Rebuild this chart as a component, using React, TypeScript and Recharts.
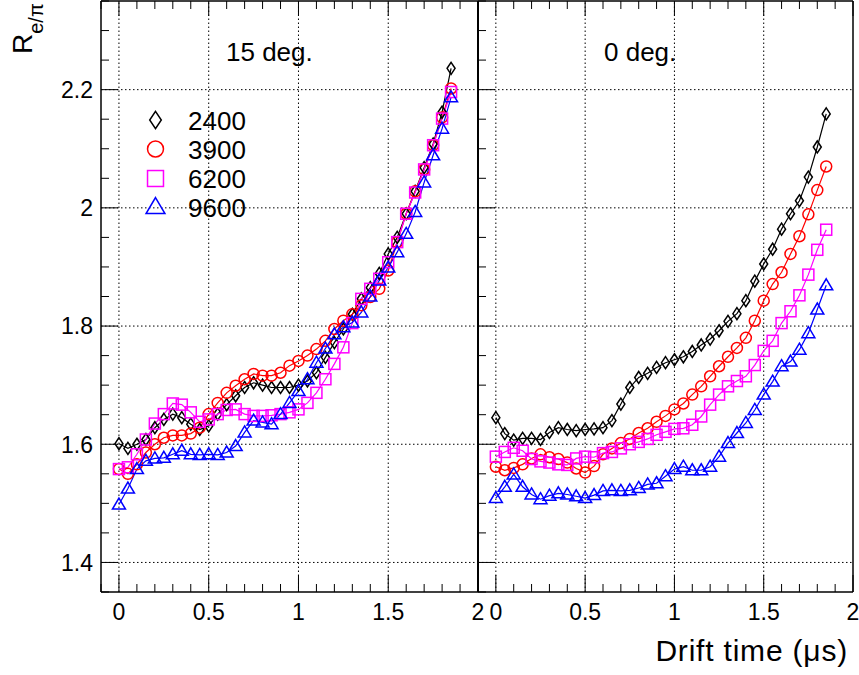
import React from "react";
import { LineChart, Line, XAxis, YAxis, ReferenceLine } from "recharts";

// drift time in microseconds, same sampling for every series
const driftTime = [
  0, 0.05, 0.1, 0.15, 0.2, 0.25, 0.3, 0.35, 0.4, 0.45, 0.5, 0.55, 0.6, 0.65,
  0.7, 0.75, 0.8, 0.85, 0.9, 0.95, 1.0, 1.05, 1.1, 1.15, 1.2, 1.25, 1.3, 1.35,
  1.4, 1.45, 1.5, 1.55, 1.6, 1.65, 1.7, 1.75, 1.8, 1.85,
];

// 15 deg. panel
const deg15_2400 = [
  1.601, 1.593, 1.6, 1.608, 1.628, 1.642, 1.651, 1.645, 1.634, 1.625, 1.631,
  1.651, 1.667, 1.682, 1.696, 1.704, 1.7, 1.696, 1.696, 1.696, 1.7, 1.707,
  1.721, 1.747, 1.772, 1.795, 1.82, 1.846, 1.865, 1.889, 1.922, 1.95, 1.99,
  2.028, 2.068, 2.108, 2.162, 2.236,
];
const deg15_3900 = [
  1.558, 1.55, 1.566, 1.586, 1.6, 1.611, 1.615, 1.615, 1.618, 1.628, 1.651,
  1.67, 1.687, 1.699, 1.71, 1.719, 1.716, 1.716, 1.721, 1.733, 1.741, 1.75,
  1.761, 1.775, 1.795, 1.809, 1.82, 1.835, 1.849, 1.863, 1.894, 1.942, 1.99,
  2.028, 2.065, 2.106, 2.153, 2.202,
];
const deg15_6200 = [
  1.558, 1.561, 1.583, 1.608, 1.635, 1.651, 1.669, 1.667, 1.654, 1.638, 1.642,
  1.651, 1.658, 1.659, 1.651, 1.648, 1.648, 1.649, 1.651, 1.654, 1.659, 1.67,
  1.687, 1.71, 1.736, 1.764, 1.805, 1.846, 1.863, 1.88, 1.908, 1.942, 1.99,
  2.026, 2.065, 2.106, 2.151, 2.196,
];
const deg15_9600 = [
  1.498, 1.525, 1.558, 1.572, 1.576, 1.577, 1.583, 1.589, 1.583, 1.582, 1.583,
  1.582, 1.586, 1.597, 1.62, 1.64, 1.637, 1.634, 1.651, 1.67, 1.69, 1.71,
  1.738, 1.762, 1.786, 1.798, 1.806, 1.823, 1.85, 1.877, 1.899, 1.925, 1.956,
  1.993, 2.043, 2.089, 2.134, 2.187,
];

// 0 deg. panel
const deg0_2400 = [
  1.645, 1.618, 1.607, 1.61, 1.61, 1.608, 1.62, 1.628, 1.625, 1.623, 1.625,
  1.626, 1.628, 1.64, 1.668, 1.696, 1.713, 1.72, 1.73, 1.738, 1.743, 1.748,
  1.757, 1.768, 1.778, 1.792, 1.808, 1.821, 1.843, 1.876, 1.905, 1.93, 1.964,
  1.99, 2.012, 2.052, 2.103, 2.159,
];
const deg0_3900 = [
  1.562, 1.556, 1.56, 1.566, 1.576, 1.583, 1.578, 1.575, 1.569, 1.559, 1.552,
  1.563, 1.583, 1.593, 1.602, 1.609, 1.619, 1.627, 1.638, 1.648, 1.659, 1.669,
  1.684, 1.698, 1.715, 1.732, 1.748, 1.763, 1.78, 1.809, 1.843, 1.871, 1.891,
  1.922, 1.952, 1.989, 2.03, 2.07,
];
const deg0_6200 = [
  1.579, 1.587, 1.594, 1.589, 1.575, 1.571, 1.569, 1.566, 1.565, 1.576, 1.579,
  1.578, 1.585, 1.587, 1.593, 1.6, 1.604, 1.609, 1.616, 1.621, 1.626, 1.627,
  1.633, 1.647, 1.667, 1.684, 1.698, 1.707, 1.715, 1.734, 1.758, 1.775, 1.805,
  1.825, 1.852, 1.887, 1.929, 1.963,
];
const deg0_9600 = [
  1.509, 1.528, 1.549, 1.528, 1.515, 1.507, 1.513, 1.517, 1.515, 1.512, 1.509,
  1.514, 1.521, 1.522, 1.521, 1.522, 1.526, 1.532, 1.534, 1.546, 1.558, 1.562,
  1.556, 1.556, 1.562, 1.579, 1.602, 1.619, 1.636, 1.658, 1.684, 1.706, 1.732,
  1.74, 1.76, 1.788, 1.828, 1.869,
];

const xTicks = [
  -0.1, 0, 0.1, 0.2, 0.3, 0.4, 0.5, 0.6, 0.7, 0.8, 0.9, 1, 1.1, 1.2, 1.3, 1.4,
  1.5, 1.6, 1.7, 1.8, 1.9, 2,
];
const xMajor = [0, 0.5, 1, 1.5, 2];
const yTicks = [
  1.35, 1.4, 1.45, 1.5, 1.55, 1.6, 1.65, 1.7, 1.75, 1.8, 1.85, 1.9, 1.95, 2,
  2.05, 2.1, 2.15, 2.2, 2.25, 2.3, 2.35,
];
const yMajor = [1.4, 1.6, 1.8, 2, 2.2];

const SERIES = [
  { key: "s2400", name: "2400", color: "#000000", shape: "diamond" },
  { key: "s3900", name: "3900", color: "#ff0000", shape: "circle" },
  { key: "s6200", name: "6200", color: "#ff00ff", shape: "square" },
  { key: "s9600", name: "9600", color: "#0000ff", shape: "triangle" },
];

const leftData = driftTime.map((t, i) => ({
  t,
  s2400: deg15_2400[i],
  s3900: deg15_3900[i],
  s6200: deg15_6200[i],
  s9600: deg15_9600[i],
}));
const rightData = driftTime.map((t, i) => ({
  t,
  s2400: deg0_2400[i],
  s3900: deg0_3900[i],
  s6200: deg0_6200[i],
  s9600: deg0_9600[i],
}));

const FONT = "'Liberation Sans', Arial, Helvetica, sans-serif";

function Marker({ shape, cx, cy, color, s = 1 }) {
  const common = { fill: "none", stroke: color, strokeWidth: 1.5 };
  if (shape === "diamond")
    return (
      <path
        d={`M${cx},${cy - 6 * s}L${cx + 4 * s},${cy}L${cx},${cy + 6 * s}L${cx - 4 * s},${cy}Z`}
        {...common}
      />
    );
  if (shape === "circle") return <circle cx={cx} cy={cy} r={5.5 * s} {...common} />;
  if (shape === "square")
    return <rect x={cx - 5.5 * s} y={cy - 5.5 * s} width={11 * s} height={11 * s} {...common} />;
  return (
    <path
      d={`M${cx},${cy - 6.5 * s}L${cx + 6.5 * s},${cy + 4.5 * s}L${cx - 6.5 * s},${cy + 4.5 * s}Z`}
      {...common}
    />
  );
}

const near = (v, list) => list.some((m) => Math.abs(m - v) < 1e-6);
const fmt = (v) => String(Math.round(v * 10) / 10);

function BottomTick(props) {
  const { x, y, payload } = props;
  const major = near(payload.value, xMajor);
  return (
    <g>
      <line x1={x} x2={x} y1={y} y2={y - (major ? 17 : 8)} stroke="#000" />
      {major && (
        <text x={x} y={y + 28} textAnchor="middle" fontSize={23} fontFamily={FONT} fill="#000">
          {fmt(payload.value)}
        </text>
      )}
    </g>
  );
}

function TopTick(props) {
  const { x, y, payload } = props;
  const major = near(payload.value, xMajor);
  return <line x1={x} x2={x} y1={y} y2={y + (major ? 15 : 8)} stroke="#000" />;
}

function makeLeftTick(withLabels) {
  return function LeftTick(props) {
    const { x, y, payload } = props;
    const major = near(payload.value, yMajor);
    return (
      <g>
        <line x1={x} x2={x + (major ? 17 : 8)} y1={y} y2={y} stroke="#000" />
        {withLabels && major && (
          <text
            x={x - 8}
            y={y}
            dy="0.36em"
            textAnchor="end"
            fontSize={23}
            fontFamily={FONT}
            fill="#000"
          >
            {fmt(payload.value)}
          </text>
        )}
      </g>
    );
  };
}

function RightTick(props) {
  const { x, y, payload } = props;
  const major = near(payload.value, yMajor);
  return <line x1={x} x2={x - (major ? 17 : 8)} y1={y} y2={y} stroke="#000" />;
}

const leftTickLabelled = makeLeftTick(true);
const leftTickPlain = makeLeftTick(false);

function Panel({ data, width, margin, leftWidth, yLabels, leftStroke }) {
  return (
    <LineChart width={width} height={675} data={data} margin={margin}>
      <XAxis
        xAxisId="b"
        dataKey="t"
        type="number"
        orientation="bottom"
        domain={[-0.1, 2]}
        ticks={xTicks}
        interval={0}
        height={30}
        tickSize={0}
        tickMargin={0}
        tickLine={false}
        tick={BottomTick}
        axisLine={{ stroke: "#000", strokeWidth: 1.5 }}
      />
      <XAxis
        xAxisId="t"
        dataKey="t"
        type="number"
        orientation="top"
        domain={[-0.1, 2]}
        ticks={xTicks}
        interval={0}
        height={1}
        tickSize={0}
        tickMargin={0}
        tickLine={false}
        tick={TopTick}
        axisLine={{ stroke: "#000", strokeWidth: 1.5 }}
      />
      <YAxis
        yAxisId="l"
        type="number"
        orientation="left"
        domain={[1.35, 2.35]}
        ticks={yTicks}
        interval={0}
        width={leftWidth}
        tickSize={0}
        tickMargin={0}
        tickLine={false}
        tick={yLabels ? leftTickLabelled : leftTickPlain}
        axisLine={{ stroke: "#000", strokeWidth: leftStroke }}
      />
      <YAxis
        yAxisId="r"
        type="number"
        orientation="right"
        domain={[1.35, 2.35]}
        ticks={yTicks}
        interval={0}
        width={1}
        tickSize={0}
        tickMargin={0}
        tickLine={false}
        tick={RightTick}
        axisLine={{ stroke: "#000", strokeWidth: 1.5 }}
      />
      {xMajor
        .filter((v) => v < 2)
        .map((v) => (
          <ReferenceLine
            key={`vx${v}`}
            x={v}
            xAxisId="b"
            yAxisId="l"
            stroke="#000"
            strokeWidth={1}
            strokeDasharray="1.5 2.5"
          />
        ))}
      {yMajor.map((v) => (
        <ReferenceLine
          key={`hy${v}`}
          y={v}
          xAxisId="b"
          yAxisId="l"
          stroke="#000"
          strokeWidth={1}
          strokeDasharray="1.5 2.5"
        />
      ))}
      {SERIES.map((s) => (
        <Line
          key={s.key}
          xAxisId="b"
          yAxisId="l"
          dataKey={s.key}
          name={s.name}
          type="linear"
          stroke={s.color}
          strokeWidth={1.2}
          isAnimationActive={false}
          dot={(p) => {
            const { cx, cy, index } = p;
            if (cx == null || cy == null) return <g key={`${s.key}${index}`} />;
            return (
              <Marker key={`${s.key}${index}`} shape={s.shape} cx={cx} cy={cy} color={s.color} />
            );
          }}
          activeDot={false}
        />
      ))}
    </LineChart>
  );
}

export default function App() {
  return (
    <div
      style={{
        position: "absolute",
        left: 0,
        top: 0,
        width: 859,
        height: 675,
        background: "#fff",
        fontFamily: FONT,
      }}
    >
      <div style={{ position: "absolute", left: 0, top: 0 }}>
        <Panel
          data={leftData}
          width={500}
          margin={{ top: 0, left: 41, right: 21, bottom: 53 }}
          leftWidth={60}
          yLabels
          leftStroke={1.5}
        />
      </div>
      <div style={{ position: "absolute", left: 0, top: 0 }}>
        <Panel
          data={rightData}
          width={859}
          margin={{ top: 0, left: 477, right: 5, bottom: 53 }}
          leftWidth={1}
          yLabels={false}
          leftStroke={2}
        />
      </div>
      <svg
        width={859}
        height={675}
        style={{ position: "absolute", left: 0, top: 0, pointerEvents: "none" }}
        fontFamily={FONT}
      >
        <text x={226} y={61} fontSize={26} fill="#000">
          15 deg.
        </text>
        <text x={604} y={61} fontSize={26} fill="#000">
          0 deg.
        </text>
        {SERIES.map((s, i) => {
          const cy = [120, 149, 178.5, 207][i];
          return (
            <g key={s.key}>
              <Marker shape={s.shape} cx={155.5} cy={cy} color={s.color} s={1.45} />
              <text x={188} y={cy + 9.5} fontSize={26} fill="#000">
                {s.name}
              </text>
            </g>
          );
        })}
        <text
          x={848}
          y={661}
          fontSize={30}
          letterSpacing={0.8}
          textAnchor="end"
          fill="#000"
        >
          Drift time (μs)
        </text>
        <text transform="translate(32,54) rotate(-90)" fontSize={28} fill="#000">
          R
          <tspan fontSize={20} dy={11}>
            e/π
          </tspan>
        </text>
      </svg>
    </div>
  );
}
